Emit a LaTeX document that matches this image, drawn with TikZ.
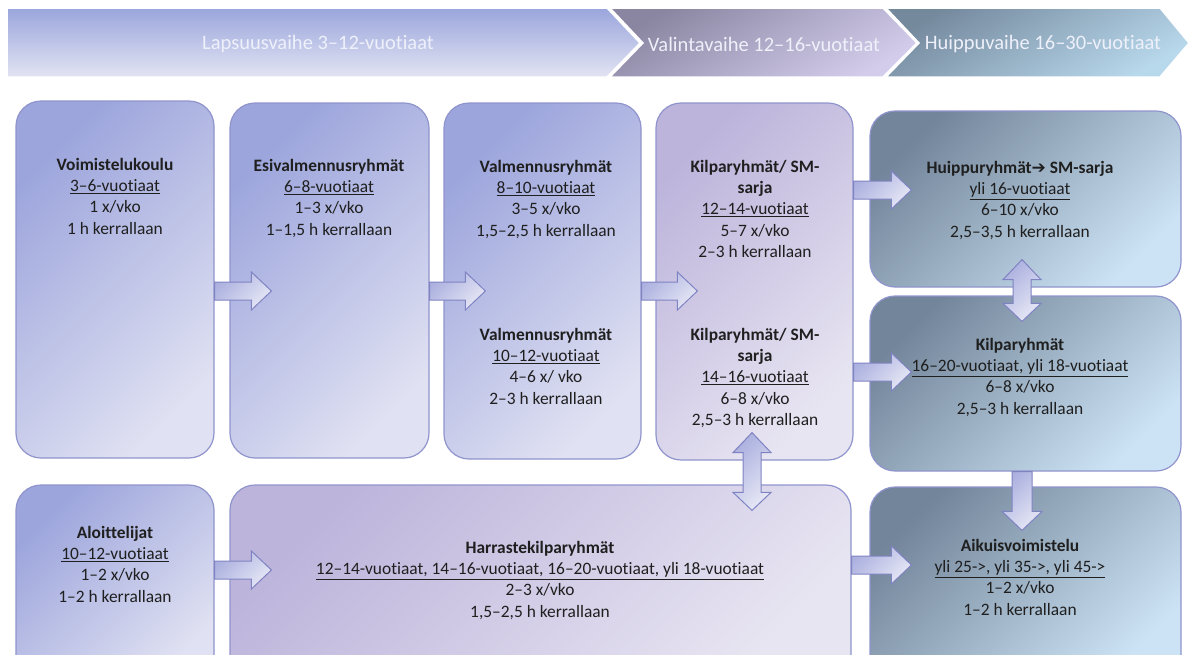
\documentclass[tikz,border=0pt]{standalone}
\usepackage{fontspec}
\setmainfont{Carlito}[Ligatures=NoCommon]
\newfontfamily\symfont{DejaVu Sans}
\usetikzlibrary{calc,fit}

\definecolor{boxline}{HTML}{9094CC}
\definecolor{blueA}{HTML}{9CA5DC}
\definecolor{blueB}{HTML}{E0E1F2}
\definecolor{lilaA}{HTML}{BCB4DB}
\definecolor{lilaB}{HTML}{E8E5F2}
\definecolor{greyA}{HTML}{73859A}
\definecolor{greyB}{HTML}{CCE3F5}
\definecolor{arrowline}{HTML}{7F83C2}
\definecolor{arrowA}{HTML}{ABB0DF}
\definecolor{arrowB}{HTML}{E6E7F5}
\definecolor{phaseA}{HTML}{9AA5DC}
\definecolor{phaseB}{HTML}{E2E4F3}
\definecolor{phaseC}{HTML}{8A86A2}
\definecolor{phaseD}{HTML}{D3CDEB}
\definecolor{phaseE}{HTML}{75899D}
\definecolor{phaseF}{HTML}{B8D8EC}
\definecolor{phasetext}{HTML}{EEF0FA}

\tikzset{
  box/.style={draw=boxline, line width=1.2pt, rounded corners=25pt, inner sep=0pt},
  bluebox/.style={box, top color=blueA, bottom color=blueB, shading angle=45},
  lilabox/.style={box, top color=lilaA, bottom color=lilaB, shading angle=45},
  greybox/.style={box, top color=greyA, bottom color=greyB, shading angle=45},
  txt/.style={align=center, anchor=north, inner sep=0pt, text=black!88,
    font=\fontsize{17.4}{21.2}\selectfont},
  blockarrow/.style={draw=arrowline, line width=1pt, top color=arrowA, bottom color=arrowB, shading angle=45},
  phase/.style={draw=white, line width=1.5pt},
  phasetxt/.style={inner sep=0pt, text=phasetext, font=\fontsize{20.5}{24}\selectfont}
}

% block arrow to the right, from #1 into #2 on row #3
\newcommand{\rarrow}[3]{%
  \draw[blockarrow] let \p1=(#1.east), \p2=(#2.west), \p3=(0,#3) in
    (\x1,\y3+9pt) -- (\x2+22pt,\y3+9pt) -- (\x2+22pt,\y3+19pt) -- (\x2+42pt,\y3)
    -- (\x2+22pt,\y3-19pt) -- (\x2+22pt,\y3-9pt) -- (\x1,\y3-9pt) -- cycle;}
% double block arrow between upper #1 and lower #2 on column #3
\newcommand{\udarrow}[3]{%
  \draw[blockarrow] let \p1=(#1.south), \p2=(#2.north), \p3=(#3,0) in
    (\x3,\y1+28pt) -- (\x3+19pt,\y1+8pt) -- (\x3+9pt,\y1+8pt) -- (\x3+9pt,\y2-8pt)
    -- (\x3+19pt,\y2-8pt) -- (\x3,\y2-26pt) -- (\x3-19pt,\y2-8pt) -- (\x3-9pt,\y2-8pt)
    -- (\x3-9pt,\y1+8pt) -- (\x3-19pt,\y1+8pt) -- cycle;}
% block arrow down from #1 into #2 on column #3
\newcommand{\darrow}[3]{%
  \draw[blockarrow] let \p1=(#1.south), \p2=(#2.north), \p3=(#3,0) in
    (\x3-10pt,\y1) -- (\x3+10pt,\y1) -- (\x3+10pt,\y2-25pt) -- (\x3+20pt,\y2-25pt)
    -- (\x3,\y2-44pt) -- (\x3-20pt,\y2-25pt) -- (\x3-10pt,\y2-25pt) -- cycle;}

\begin{document}
\begin{tikzpicture}[x=1pt,y=-1pt]
  \useasboundingbox (0,0) rectangle (1189,654);
  \clip (0,0) rectangle (1189,654);

  % phases
  \path[phase, top color=phaseA, bottom color=phaseB]
    (7,8) -- (607,8) -- (640,43) -- (607,77) -- (7,77) -- cycle;
  \path[phase, top color=phaseC, bottom color=phaseD, shading angle=30]
    (610,8) -- (883,8) -- (917,43) -- (883,77) -- (610,77) -- (643,43) -- cycle;
  \path[phase, top color=phaseE, bottom color=phaseF, shading angle=30]
    (886,8) -- (1160,8) -- (1189,43) -- (1160,77) -- (886,77) -- (919,43) -- cycle;
  \node[phasetxt] (ph1) at (318,44) {Lapsuusvaihe 3–12-vuotiaat};
  \node[phasetxt] (ph2) at (764,44) {Valintavaihe 12–16-vuotiaat};
  \node[phasetxt] (ph3) at (1043,44) {Huippuvaihe 16–30-vuotiaat};

  % boxes
  \node[bluebox, fit={(16,101) (214,458)}] (voim) {};
  \node[bluebox, fit={(230,103) (429,458)}] (esi) {};
  \node[bluebox, fit={(444,103) (641,459)}] (valm) {};
  \node[lilabox, fit={(656,103) (853,460)}] (kilpa) {};
  \node[greybox, fit={(870,111) (1181,287)}] (huippu) {};
  \node[greybox, fit={(870,296) (1181,471)}] (kilpa2) {};
  \node[greybox, fit={(870,487) (1181,680)}] (aikuis) {};
  \node[bluebox, fit={(16,485) (214,680)}] (aloit) {};
  \node[lilabox, fit={(230,485) (851,680)}] (harr) {};

  % texts
  \node[txt] (t1) at (115,158) {\textbf{Voimistelukoulu}\\ \underline{3–6-vuotiaat}\\ 1 x/vko\\ 1 h kerrallaan};
  \node[txt] (t2) at (329,159) {\textbf{Esivalmennusryhmät}\\ \underline{6–8-vuotiaat}\\ 1–3 x/vko\\ 1–1,5 h kerrallaan};
  \node[txt] (t3a) at (546,160) {\textbf{Valmennusryhmät}\\ \underline{8–10-vuotiaat}\\ 3–5 x/vko\\ 1,5–2,5 h kerrallaan};
  \node[txt] (t3b) at (546,328) {\textbf{Valmennusryhmät}\\ \underline{10–12-vuotiaat}\\ 4–6 x/ vko\\ 2–3 h kerrallaan};
  \node[txt] (t4a) at (755,160) {\textbf{Kilparyhmät/ SM-}\\ \textbf{sarja}\\ \underline{12–14-vuotiaat}\\ 5–7 x/vko\\ 2–3 h kerrallaan};
  \node[txt] (t4b) at (755,328) {\textbf{Kilparyhmät/ SM-}\\ \textbf{sarja}\\ \underline{14–16-vuotiaat}\\ 6–8 x/vko\\ 2,5–3 h kerrallaan};
  \node[txt] (t5) at (1020,161) {\textbf{Huippuryhmät{\symfont\bfseries\fontsize{17}{17}\selectfont ➔} SM-sarja}\\ \underline{yli 16-vuotiaat}\\ 6–10 x/vko\\ 2,5–3,5 h kerrallaan};
  \node[txt] (t6) at (1020,338) {\textbf{Kilparyhmät}\\ \underline{16–20-vuotiaat, yli 18-vuotiaat}\\ 6–8 x/vko\\ 2,5–3 h kerrallaan};
  \node[txt] (t7) at (1020,539) {\textbf{Aikuisvoimistelu}\\ \underline{yli 25->, yli 35->, yli 45->}\\ 1–2 x/vko\\ 1–2 h kerrallaan};
  \node[txt] (t8) at (115,526) {\textbf{Aloittelijat}\\ \underline{10–12-vuotiaat}\\ 1–2 x/vko\\ 1–2 h kerrallaan};
  \node[txt] (t9) at (540,541) {\textbf{Harrastekilparyhmät}\\ \underline{12–14-vuotiaat, 14–16-vuotiaat, 16–20-vuotiaat, yli 18-vuotiaat}\\ 2–3 x/vko\\ 1,5–2,5 h kerrallaan};

  % arrows
  \rarrow{voim}{esi}{291}
  \rarrow{esi}{valm}{291}
  \rarrow{valm}{kilpa}{291}
  \rarrow{kilpa}{huippu}{190}
  \rarrow{kilpa}{kilpa2}{372}
  \rarrow{aloit}{harr}{570}
  \rarrow{harr}{aikuis}{565}
  \udarrow{huippu}{kilpa2}{1022}
  \udarrow{kilpa}{harr}{752}
  \darrow{kilpa2}{aikuis}{1022}
\end{tikzpicture}
\end{document}
